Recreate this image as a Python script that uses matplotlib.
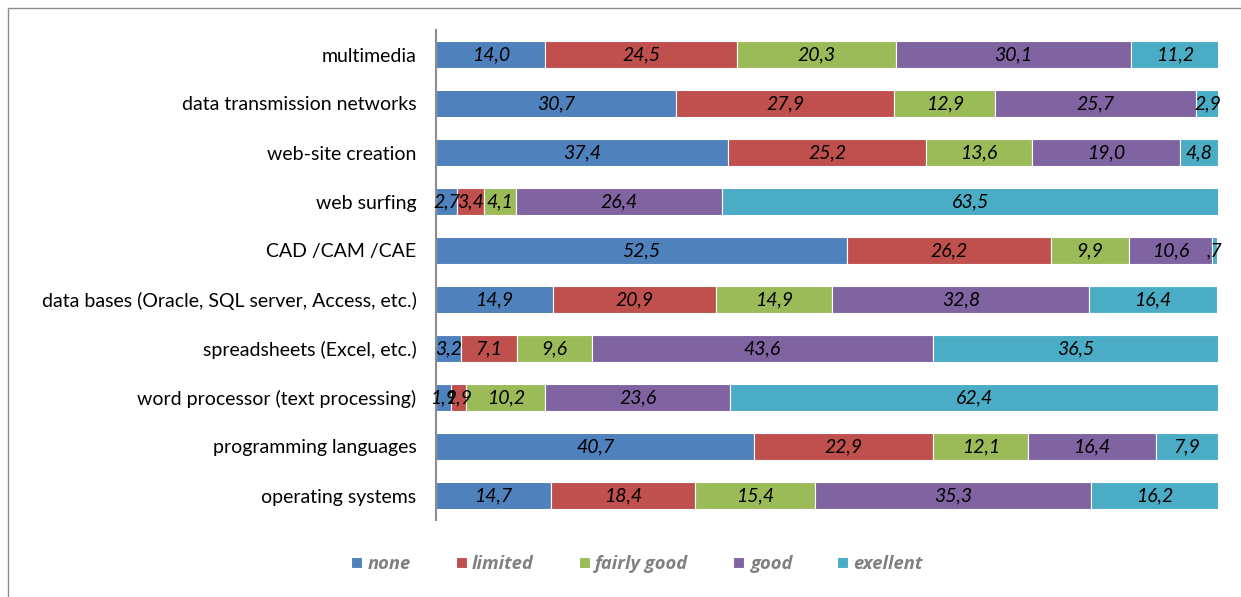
import matplotlib.pyplot as plt
import matplotlib.patches as mpatches
import numpy as np

categories = ["operating systems", "programming languages", "word processor (text processing)",
              "spreadsheets (Excel, etc.)", "data bases (Oracle, SQL server, Access, etc.)",
              "CAD /CAM /CAE", "web surfing", "web-site creation",
              "data transmission networks", "multimedia"]
series = ["none", "limited", "fairly good", "good", "exellent"]
none_ = [14.7, 40.7, 1.9, 3.2, 14.9, 52.5, 2.7, 37.4, 30.7, 14.0]
limited = [18.4, 22.9, 1.9, 7.1, 20.9, 26.2, 3.4, 25.2, 27.9, 24.5]
fairly_good = [15.4, 12.1, 10.2, 9.6, 14.9, 9.9, 4.1, 13.6, 12.9, 20.3]
good = [35.3, 16.4, 23.6, 43.6, 32.8, 10.6, 26.4, 19.0, 25.7, 30.1]
exellent = [16.2, 7.9, 62.4, 36.5, 16.4, 0.7, 63.5, 4.8, 2.9, 11.2]
colors = ["#4F81BD", "#C0504D", "#9BBB59", "#8064A2", "#4BACC6"]

plt.rcParams['font.family'] = ['Lato', 'DejaVu Sans']

def fmt(v):
    s = ("%.1f" % v).replace(".", ",")
    if s.startswith("0,"):
        s = s[1:]
    return s

fig = plt.figure(figsize=(12.41, 5.97), dpi=100)
# outer frame
fig.patches.append(mpatches.Rectangle((8 / 1241, -0.01), 1.02, (597 - 8) / 597 + 0.01,
                                      transform=fig.transFigure, fill=False,
                                      edgecolor="#8c8c8c", linewidth=1.0))
ax = fig.add_axes([436 / 1241, 77 / 597, 782 / 1241, 490 / 597])

y = np.arange(len(categories))
data = [none_, limited, fairly_good, good, exellent]
left = np.zeros(len(categories))
handles = []
for name, vals, c in zip(series, data, colors):
    vals = np.array(vals)
    b = ax.barh(y, vals, left=left, height=0.56, color=c, edgecolor="white", linewidth=0.8, label=name)
    handles.append(b)
    for yi, l, v in zip(y, left, vals):
        ax.text(l + v / 2, yi, fmt(v), ha="center", va="center", fontsize=14,
                style="italic", color="black")
    left = left + vals

ax.set_xlim(0, 100)
ax.set_ylim(-0.5, 9.5)
ax.set_yticks(y)
ax.set_yticklabels(categories, fontsize=14)
ax.tick_params(axis="y", length=0, pad=14)
ax.set_xticks([])
for s in ["top", "right", "bottom"]:
    ax.spines[s].set_visible(False)
ax.spines["left"].set_color("#8c8c8c")
ax.spines["left"].set_linewidth(1.5)

leg = fig.legend(handles=handles, loc="center", bbox_to_anchor=(637 / 1241, 1 - 564 / 597),
                 ncol=5, frameon=False, handlelength=0.6, handleheight=0.6,
                 columnspacing=2.45, handletextpad=0.3,
                 prop={"family": "Open Sans", "size": 13.2, "style": "italic", "weight": "bold"})
for t in leg.get_texts():
    t.set_color("#808080")

fig.savefig("out.png", dpi=100)
